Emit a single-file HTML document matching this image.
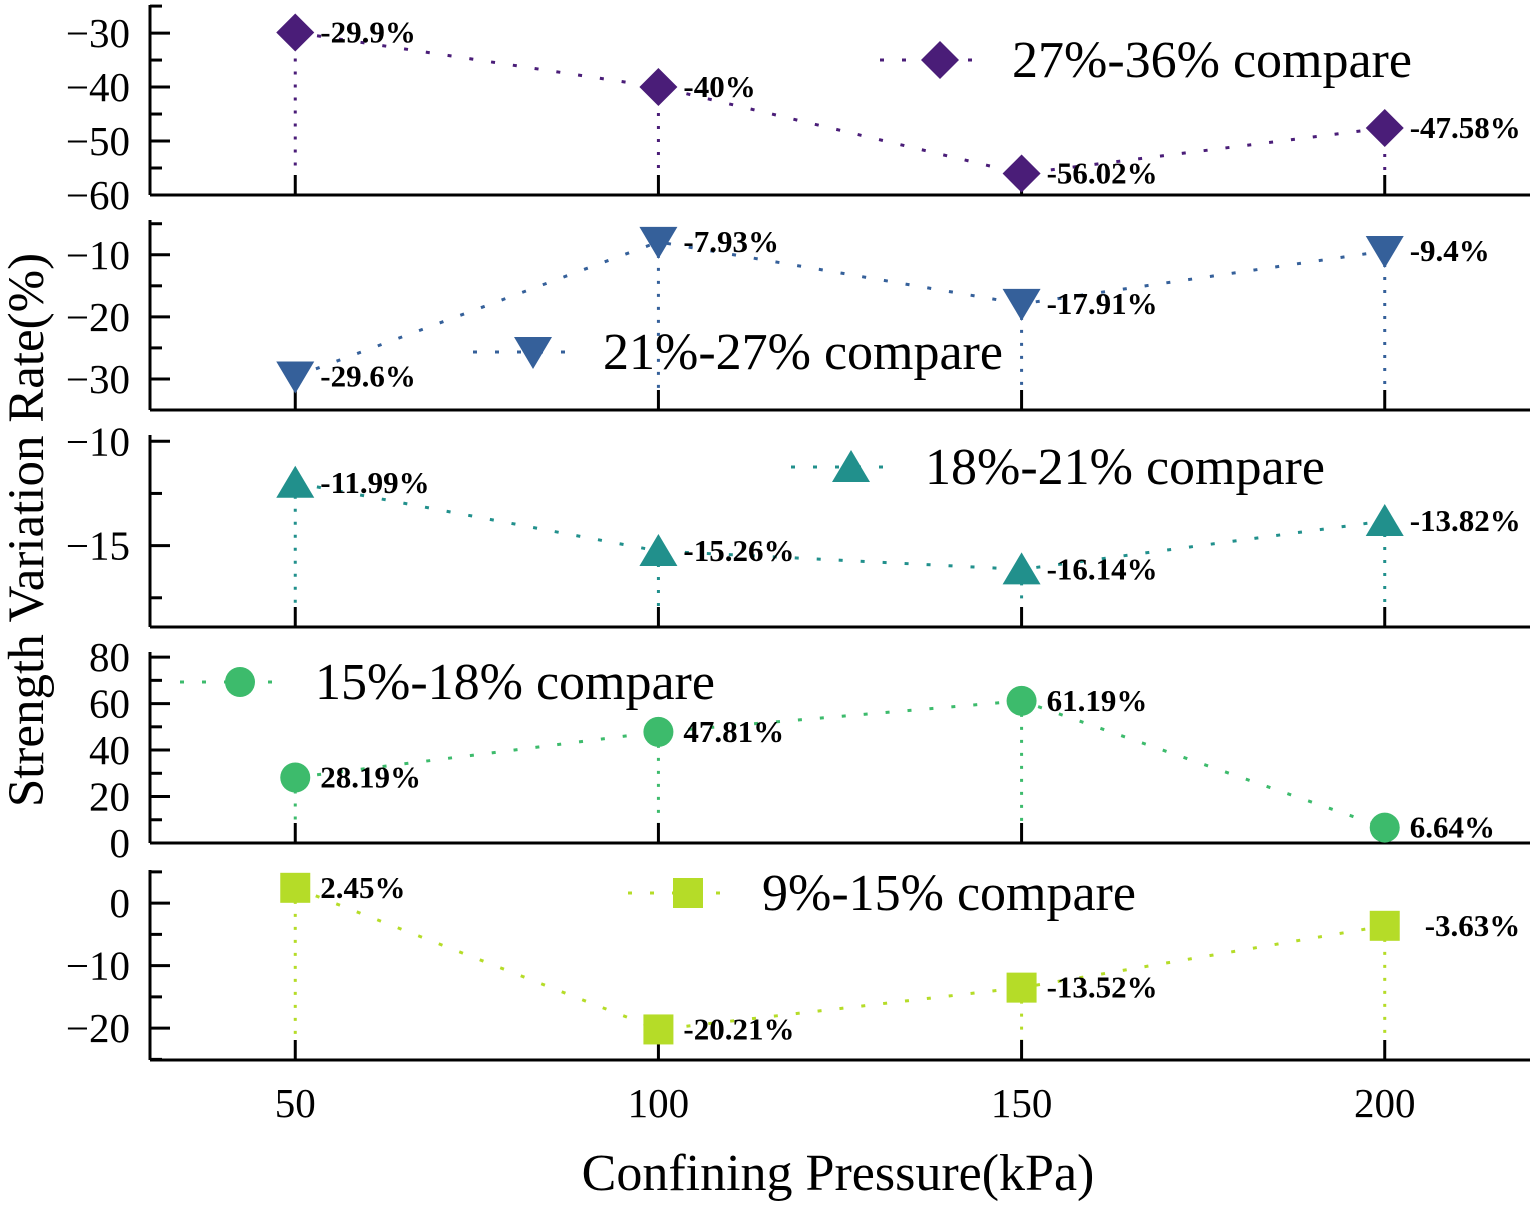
<!DOCTYPE html>
<html><head><meta charset="utf-8"><style>
body{margin:0;background:#fff}
svg text{font-family:"Liberation Serif",serif}
</style></head><body>
<svg id="c" width="1535" height="1205" xmlns="http://www.w3.org/2000/svg"></svg>
<script>
const categories=[50,100,150,200];
const s1=[-29.9,-40,-56.02,-47.58];
const s2=[-29.6,-7.93,-17.91,-9.4];
const s3=[-11.99,-15.26,-16.14,-13.82];
const s4=[28.19,47.81,61.19,6.64];
const s5=[2.45,-20.21,-13.52,-3.63];
const labels1=["-29.9%","-40%","-56.02%","-47.58%"];
const labels2=["-29.6%","-7.93%","-17.91%","-9.4%"];
const labels3=["-11.99%","-15.26%","-16.14%","-13.82%"];
const labels4=["28.19%","47.81%","61.19%","6.64%"];
const labels5=["2.45%","-20.21%","-13.52%","-3.63%"];
const legendNames=["27%-36% compare","21%-27% compare","18%-21% compare","15%-18% compare","9%-15% compare"];
const xTicks=[50,100,150,200];
const yTicks1=[-30,-40,-50,-60],yTicks2=[-10,-20,-30],yTicks3=[-10,-15],yTicks4=[80,60,40,20,0],yTicks5=[0,-10,-20];

const NS="http://www.w3.org/2000/svg",svg=document.getElementById('c');
function el(t,a,p){const e=document.createElementNS(NS,t);for(const k in a)e.setAttribute(k,a[k]);(p||svg).appendChild(e);return e;}
const X0=150,X1=1530,xmin=30,xmax=220;
const xs=v=>X0+(v-xmin)/(xmax-xmin)*(X1-X0);
const panels=[
 {top:5,bot:195,ymin:-60,ymax:-24.8,ticks:yTicks1,minor:5,data:s1,lab:labels1,col:"#4a1d78",m:"diamond",leg:[940,60,1012]},
 {top:220,bot:410,ymin:-35,ymax:-4.4,ticks:yTicks2,minor:5,data:s2,lab:labels2,col:"#35609a",m:"tri-down",leg:[533,352,603]},
 {top:435,bot:627,ymin:-18.9,ymax:-9.7,ticks:yTicks3,minor:2.5,data:s3,lab:labels3,col:"#21908c",m:"tri-up",leg:[851,467,925]},
 {top:652,bot:843,ymin:0,ymax:82.2,ticks:yTicks4,minor:10,data:s4,lab:labels4,col:"#3dbb6c",m:"circle",leg:[240,682,315]},
 {top:870,bot:1060,ymin:-25.1,ymax:5.3,ticks:yTicks5,minor:5,data:s5,lab:labels5,col:"#b5dc28",m:"square",leg:[688,893,762]}
];
function marker(m,x,y,col,g){
 if(m==="diamond")return el('polygon',{points:`${x},${y-19} ${x+19},${y} ${x},${y+19} ${x-19},${y}`,fill:col},g);
 if(m==="tri-down")return el('polygon',{points:`${x-19},${y-15} ${x+19},${y-15} ${x},${y+17}`,fill:col},g);
 if(m==="tri-up")return el('polygon',{points:`${x-19},${y+15} ${x+19},${y+15} ${x},${y-17}`,fill:col},g);
 if(m==="circle")return el('circle',{cx:x,cy:y,r:15,fill:col},g);
 return el('rect',{x:x-15,y:y-15,width:30,height:30,fill:col},g);
}
panels.forEach((p,i)=>{
 const g=el('g',{});
 
 
 const ys=v=>p.bot-(v-p.ymin)/(p.ymax-p.ymin)*(p.bot-p.top);
 el('line',{x1:X0,y1:p.top,x2:X0,y2:p.bot,stroke:"#000","stroke-width":3},g);
 el('line',{x1:X0,y1:p.bot,x2:X1,y2:p.bot,stroke:"#000","stroke-width":3},g);
 for(let v=Math.ceil(p.ymin/p.minor)*p.minor;v<=p.ymax+1e-9;v+=p.minor){
  const major=p.ticks.some(t=>Math.abs(t-v)<1e-6);
  el('line',{x1:X0,y1:ys(v),x2:X0+(major?20:12),y2:ys(v),stroke:"#000","stroke-width":3},g);
 }
 p.ticks.forEach(t=>{const tx=el('text',{x:X0-20,y:ys(t)+14,"text-anchor":"end","font-size":41},g);tx.textContent=(t<0?"\u2212":"")+Math.abs(t);
  });
 xTicks.forEach(t=>el('line',{x1:xs(t),y1:p.bot,x2:xs(t),y2:p.bot-20,stroke:"#000","stroke-width":3},g));
 p.data.forEach((v,j)=>el('line',{x1:xs(categories[j]),y1:ys(v),x2:xs(categories[j]),y2:p.bot-20,stroke:p.col,"stroke-width":3,"stroke-dasharray":"3 10"},g));
 const pts=p.data.map((v,j)=>xs(categories[j])+","+ys(v)).join(" ");
 const pl=el('polyline',{points:pts,fill:"none",stroke:p.col,"stroke-width":3,"stroke-dasharray":"4 18"},g);
 
 p.data.forEach((v,j)=>{
  const mk=marker(p.m,xs(categories[j]),ys(v),p.col,g);
  
  
  const t=el('text',{x:xs(categories[j])+(p.m==="square"&&j===3?40:25),y:ys(v)+10,"font-size":31,"font-weight":"bold"},g);
  t.textContent=p.lab[j];
  
  
 });
 const [lx,ly,tx]=p.leg;
 const lg=el('g',{},g);
 
 
 el('line',{x1:lx-60,y1:ly,x2:lx+40,y2:ly,stroke:p.col,"stroke-width":3,"stroke-dasharray":"4 18"},lg);
 marker(p.m,lx,ly,p.col,lg);
 const lt=el('text',{x:tx,y:ly+17,"font-size":52},lg);lt.textContent=legendNames[i];
});
xTicks.forEach(t=>{const tx=el('text',{x:xs(t),y:1117,"text-anchor":"middle","font-size":41});tx.textContent=t;
 });
const xt=el('text',{x:838,y:1190,"text-anchor":"middle","font-size":52});xt.textContent="Confining Pressure(kPa)";

const yt=el('text',{x:0,y:0,"text-anchor":"middle","font-size":51,transform:"translate(43,530) rotate(-90)"});yt.textContent="Strength Variation Rate(%)";

</script>
</body></html>
